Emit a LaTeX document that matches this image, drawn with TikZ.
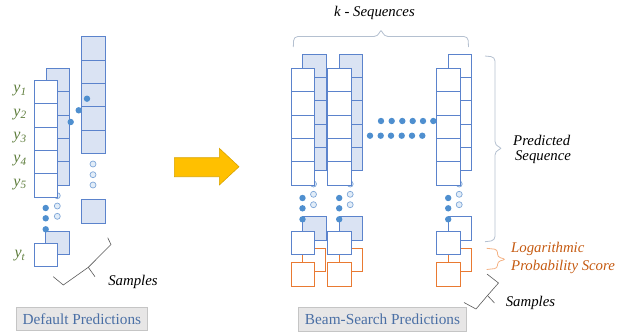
\documentclass[tikz,border=0pt]{standalone}
\usepackage{fontspec}
\setmainfont{Liberation Serif}
\usetikzlibrary{calc}
\definecolor{cellborder}{HTML}{5B83CC}
\definecolor{cellfill}{HTML}{DAE3F3}
\definecolor{dotblue}{HTML}{4F8FCF}
\definecolor{hollowfill}{HTML}{E2EDF8}
\definecolor{hollowborder}{HTML}{7FA7D8}
\definecolor{orangeline}{HTML}{E97A32}
\definecolor{orangetext}{HTML}{C55A11}
\definecolor{lightbrace}{HTML}{B4C0D0}
\definecolor{lightorange}{HTML}{F4B183}
\definecolor{darkbrace}{HTML}{595959}
\definecolor{ylabel}{HTML}{5E7D3C}
\definecolor{boxfill}{HTML}{E7E6E6}
\definecolor{boxborder}{HTML}{C5C5C5}
\definecolor{boxtext}{HTML}{4A6FA5}
\definecolor{arrowfill}{HTML}{FFC000}
\definecolor{arrowborder}{HTML}{D9A400}
\newcommand{\stackcells}[5]{%
  \foreach \i in {1,...,#3} {\filldraw[fill=#4,draw=#5,line width=0.8pt] (#1,{#2+(\i-1)*23.33}) rectangle ++(23.5,23.33);}%
}
\newcommand{\fillDot}[2]{\fill[dotblue] (#1,#2) circle (3.2);}
\newcommand{\openDot}[2]{\filldraw[fill=hollowfill,draw=hollowborder,line width=0.7pt] (#1,#2) circle (3);}
\newcommand{\beamcol}[2]{% front x, back fill
  \stackcells{#1+11.5}{54}{5}{#2}{cellborder}
  \openDot{#1+22.5}{184}\openDot{#1+22.5}{194.3}\openDot{#1+22.5}{204.7}
  \stackcells{#1}{68.3}{5}{white}{cellborder}
  \stackcells{#1+11.5}{216.7}{1}{#2}{cellborder}
  \fillDot{#1+11.5}{198}\fillDot{#1+11.5}{208.3}\fillDot{#1+11.5}{219.3}
  \filldraw[fill=white,draw=orangeline,line width=0.9pt] (#1+11.5,248.3) rectangle ++(23.3,23.3);
  \filldraw[fill=white,draw=cellborder,line width=0.8pt] (#1,231.5) rectangle ++(23.5,23.3);
  \filldraw[fill=white,draw=orangeline,line width=0.9pt] (#1,262.7) rectangle ++(23.7,23.7);
}
\tikzset{
  lab/.style={font=\fontsize{14.8}{17}\selectfont\itshape, inner sep=0pt},
  ylab/.style={font=\fontsize{16}{18}\selectfont\itshape, text=ylabel, inner sep=0pt},
  btn/.style={draw=boxborder, fill=boxfill, line width=0.6pt},
  btntext/.style={font=\fontsize{15.3}{17}\selectfont, text=boxtext, inner sep=0pt},
}
\begin{document}
\begin{tikzpicture}[x=1pt,y=-1pt]
\useasboundingbox (0,0) rectangle (634,333);
% ---------- left panel ----------
\stackcells{46}{68.3}{5}{cellfill}{cellborder}
\stackcells{81.7}{36.7}{5}{cellfill}{cellborder}
\filldraw[fill=cellfill,draw=cellborder,line width=0.8pt] (81.7,199.3) rectangle ++(23.5,23.7);
\openDot{93}{164}\openDot{93}{174.7}\openDot{93}{185}
\openDot{57.3}{195.7}\openDot{57.3}{206}\openDot{57.3}{216.3}
\stackcells{34.3}{80.3}{5}{white}{cellborder}
\fillDot{87}{98.7}\fillDot{78.7}{110.3}\fillDot{70.7}{122}
\filldraw[fill=cellfill,draw=cellborder,line width=0.8pt] (45.7,231.3) rectangle ++(23.5,23);
\fillDot{45.7}{208}\fillDot{45.7}{218.3}\fillDot{45.7}{229.3}
\filldraw[fill=white,draw=cellborder,line width=0.8pt] (34.3,243.3) rectangle ++(23.5,23.4);
\node[ylab] (y1) at (20,91) {y\textsubscript{1}};
\node[ylab] (y2) at (20,114.3) {y\textsubscript{2}};
\node[ylab] (y3) at (20,137.6) {y\textsubscript{3}};
\node[ylab] (y4) at (20,161) {y\textsubscript{4}};
\node[ylab] (y5) at (20,184.3) {y\textsubscript{5}};
\node[ylab] (yt) at (20,256) {y\textsubscript{t}};
% left samples brace
\draw[darkbrace,line width=0.6pt] (107.7,237.7) -- (111,244.5) -- (88.3,267.3) -- (63.3,285) -- (53.3,276.7);
\draw[darkbrace,line width=0.6pt] (88.3,267.3) -- (95,276.7);
\node[lab] (sampL) at (133,281.5) {Samples};
% arrow
\filldraw[fill=arrowfill,draw=arrowborder,line width=0.6pt]
  (174.3,157.7) -- (219.3,157.7) -- (219.3,148.3) -- (239,166.7) -- (219.3,185) -- (219.3,176.7) -- (174.3,176.7) -- cycle;
% ---------- right panel ----------
\beamcol{291}{cellfill}
\beamcol{327.7}{cellfill}
\beamcol{436.7}{white}
\foreach \xx in {381,391.7,402.3,412.7,423,433.3} {\fillDot{\xx}{121}}
\foreach \xx in {370,380.7,391,401.7,412,422.3} {\fillDot{\xx}{135.7}}
% braces
\draw[lightbrace,line width=0.8pt,rounded corners=4pt]
  (293.3,47) -- (293.8,36.5) -- (378,36.5) -- (381,28.5) -- (384,36.5) -- (468,36.5) -- (468.5,47);
\node[lab] (kseq) at (374.5,13) {k - Sequences};
\draw[lightbrace,line width=0.8pt,rounded corners=4pt]
  (485,56) -- (495,57) -- (495,145.5) -- (503,148.3) -- (495,151) -- (495,240.5) -- (485,241.7);
\node[lab] (pred1) at (541.7,140) {Predicted};
\node[lab] (pred2) at (543,157.3) {Sequence};
\draw[lightorange,line width=0.8pt,rounded corners=3pt]
  (486.7,248.3) -- (497.5,249.5) -- (497.5,257) -- (506,259.3) -- (497.5,261.6) -- (497.5,268.3) -- (486.7,269.5);
\node[lab,text=orangetext,anchor=west] (logp1) at (511,249.3) {Logarithmic};
\node[lab,text=orangetext,anchor=west] (logp2) at (511,266.7) {Probability Score};
\draw[darkbrace,line width=0.6pt] (487,274) -- (498.5,283) -- (487.5,295.5) -- (476,309) -- (464,302.5);
\draw[darkbrace,line width=0.6pt] (487.5,295.5) -- (494.5,303);
\node[lab] (sampR) at (530.5,302.7) {Samples};
% ---------- bottom labels ----------
\draw[btn] (16,307.7) rectangle (147.7,330);
\node[btntext] (defp) at (81.9,319) {Default Predictions};
\draw[btn] (298.3,307.3) rectangle (466.7,331);
\node[btntext] (beamp) at (382.5,319.2) {Beam-Search Predictions};
\end{tikzpicture}
\end{document}
